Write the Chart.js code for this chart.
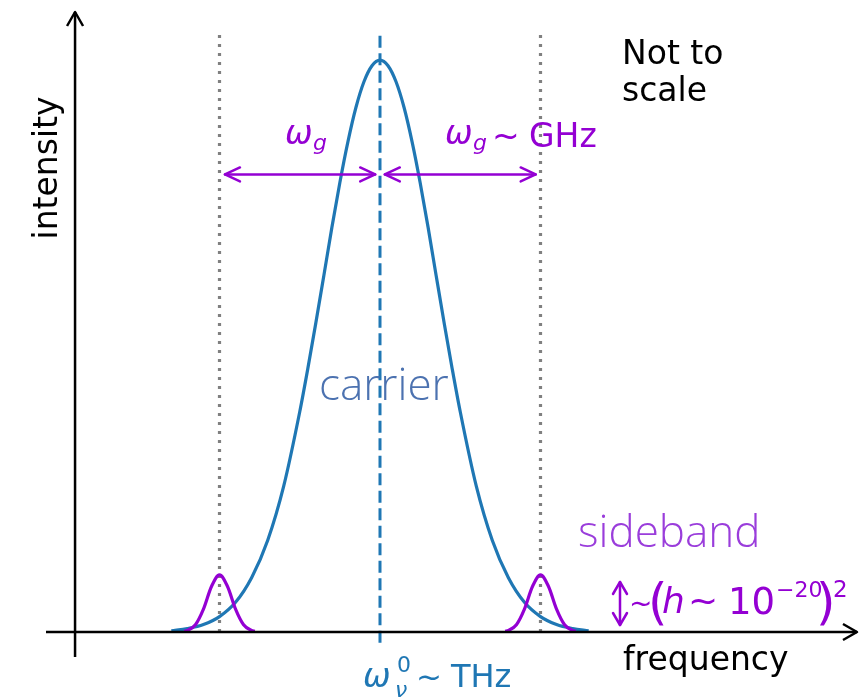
<!DOCTYPE html>
<html lang="en">
<head>
<meta charset="UTF-8">
<title>Carrier and sidebands</title>
<script src="https://cdn.jsdelivr.net/npm/chart.js"></script>
<style>
    body {
        margin: 0;
        background: #ffffff;
    }
    #wrap {
        width: 867px;
        height: 697px;
    }
</style>
</head>
<body>
<div id="wrap"><canvas id="spectrum" width="867" height="697"></canvas></div>
<script>
// carrier line shape, frequency in units of the sideband offset omega_g
const carrierFreq = [-1.3, -1.2, -1.1, -1.0, -0.9, -0.8, -0.7, -0.6, -0.5, -0.45, -0.4, -0.35, -0.3, -0.25, -0.2, -0.15, -0.1, -0.05, 0,
                     0.05, 0.1, 0.15, 0.2, 0.25, 0.3, 0.35, 0.4, 0.45, 0.5, 0.6, 0.7, 0.8, 0.9, 1.0, 1.1, 1.2, 1.3];
const carrierIntensity = [0.002, 0.006, 0.013, 0.027, 0.052, 0.095, 0.16, 0.255, 0.385, 0.46, 0.54, 0.623, 0.707, 0.786, 0.857, 0.917, 0.962, 0.99, 1,
                          0.99, 0.962, 0.917, 0.857, 0.786, 0.707, 0.623, 0.54, 0.46, 0.385, 0.255, 0.16, 0.095, 0.052, 0.027, 0.013, 0.006, 0.002];

// sidebands
const leftSidebandFreq = [-1.22, -1.2, -1.15, -1.1, -1.05, -1.0, -0.95, -0.9, -0.85, -0.8, -0.78];
const rightSidebandFreq = [0.78, 0.8, 0.85, 0.9, 0.95, 1.0, 1.05, 1.1, 1.15, 1.2, 1.22];
const sidebandIntensity = [0.0012, 0.0026, 0.0128, 0.0401, 0.0796, 0.1, 0.0796, 0.0401, 0.0128, 0.0026, 0.0012];

// guide lines
const sidebandMarks = [-1, 1];
const carrierMark = 0;
const guideTop = 1.044;
const arrowLevel = 0.8;

const xRange = [-2.081, 2.972];
const yRange = [-0.0437, 1.084];
const yAxisAt = -1.9;

const BLUE = '#1f77b4';
const PURPLE = '#9400d3';

function pts(xs, ys) {
    return xs.map((x, i) => ({x: x, y: ys[i]}));
}

function openHead(ctx, x, y, angle, len, half) {
    ctx.beginPath();
    ctx.moveTo(x - len * Math.cos(angle) - half * Math.sin(angle), y - len * Math.sin(angle) + half * Math.cos(angle));
    ctx.lineTo(x, y);
    ctx.lineTo(x - len * Math.cos(angle) + half * Math.sin(angle), y - len * Math.sin(angle) - half * Math.cos(angle));
    ctx.stroke();
}

function doubleArrow(ctx, x1, y1, x2, y2, color, len, half) {
    ctx.save();
    ctx.strokeStyle = color;
    ctx.lineWidth = 2.5;
    ctx.lineCap = 'round';
    ctx.lineJoin = 'round';
    ctx.beginPath();
    ctx.moveTo(x1, y1);
    ctx.lineTo(x2, y2);
    ctx.stroke();
    const a = Math.atan2(y2 - y1, x2 - x1);
    openHead(ctx, x2, y2, a, len, half);
    openHead(ctx, x1, y1, a + Math.PI, len, half);
    ctx.restore();
}

function txt(ctx, s, x, y, font, color) {
    ctx.font = font;
    ctx.fillStyle = color;
    ctx.fillText(s, x, y);
}

const decorations = {
    id: 'decorations',
    afterDatasetsDraw(chart) {
        const ctx = chart.ctx;
        const xs = chart.scales.x, ys = chart.scales.y;
        const area = chart.chartArea;
        const y0 = ys.getPixelForValue(0);
        const xAx = xs.getPixelForValue(yAxisAt);

        // axes
        ctx.save();
        ctx.strokeStyle = '#000';
        ctx.lineWidth = 2.5;
        ctx.lineJoin = 'round';
        ctx.beginPath();
        ctx.moveTo(area.left, y0);
        ctx.lineTo(area.right, y0);
        ctx.moveTo(xAx, area.bottom);
        ctx.lineTo(xAx, area.top);
        ctx.stroke();
        openHead(ctx, area.right, y0, 0, 14, 8);
        openHead(ctx, xAx, area.top, -Math.PI / 2, 14, 8);
        ctx.restore();

        // omega_g arrows
        const ya = ys.getPixelForValue(arrowLevel);
        doubleArrow(ctx, xs.getPixelForValue(-0.966), ya, xs.getPixelForValue(-0.03), ya, PURPLE, 15, 7);
        doubleArrow(ctx, xs.getPixelForValue(0.03), ya, xs.getPixelForValue(0.97), ya, PURPLE, 15, 7);
        // sideband height arrow
        doubleArrow(ctx, 620, 582, 620, 625, PURPLE, 12, 7);

        ctx.save();
        ctx.textBaseline = 'alphabetic';
        ctx.textAlign = 'left';

        txt(ctx, 'Not to', 622, 64, '33px "DejaVu Sans"', '#000');
        txt(ctx, 'scale', 622, 101, '33px "DejaVu Sans"', '#000');
        txt(ctx, 'frequency', 623, 670, '33px "DejaVu Sans"', '#000');

        txt(ctx, 'carrier', 319, 400, '300 44px "Open Sans"', '#4c72b0');
        txt(ctx, 'sideband', 578, 547, '300 44px "Open Sans"', '#9a3ddb');

        // omega_g labels
        txt(ctx, 'ω', 285, 144, 'italic 33px "DejaVu Sans"', PURPLE);
        txt(ctx, 'g', 313, 150, 'italic 22px "DejaVu Sans"', PURPLE);
        txt(ctx, 'ω', 445, 144, 'italic 33px "DejaVu Sans"', PURPLE);
        txt(ctx, 'g', 473, 150, 'italic 22px "DejaVu Sans"', PURPLE);
        txt(ctx, '~', 492, 147, '33px "DejaVu Sans"', PURPLE);
        txt(ctx, 'GHz', 529, 147, '33px "DejaVu Sans"', PURPLE);

        // carrier frequency label
        txt(ctx, 'ω', 363, 687, 'italic 33px "DejaVu Sans"', BLUE);
        txt(ctx, 'ν', 395, 697, 'italic 22px "DejaVu Sans"', BLUE);
        txt(ctx, '0', 397, 672, '22px "DejaVu Sans"', BLUE);
        txt(ctx, '~', 416, 687, '31px "DejaVu Sans"', BLUE);
        txt(ctx, 'THz', 451, 687, '32px "DejaVu Sans"', BLUE);

        // sideband size label
        txt(ctx, '~', 629, 613, '28px "DejaVu Sans"', PURPLE);
        txt(ctx, '(', 648, 619, '50px "DejaVu Sans"', PURPLE);
        txt(ctx, 'h', 662, 613, 'italic 36px "DejaVu Sans"', PURPLE);
        txt(ctx, '~', 688, 613, '36px "DejaVu Sans"', PURPLE);
        txt(ctx, '10', 728, 614, '37px "DejaVu Sans"', PURPLE);
        txt(ctx, '−20', 776, 597, '22px "DejaVu Sans"', PURPLE);
        txt(ctx, ')', 816, 619, '50px "DejaVu Sans"', PURPLE);
        txt(ctx, '2', 833, 597, '23px "DejaVu Sans"', PURPLE);

        // y label
        ctx.translate(57, 168);
        ctx.rotate(-Math.PI / 2);
        ctx.textAlign = 'center';
        txt(ctx, 'intensity', 0, 0, '33px "DejaVu Sans"', '#000');
        ctx.restore();
    }
};

new Chart(document.getElementById('spectrum'), {
    type: 'scatter',
    data: {
        datasets: [
            {
                data: pts(leftSidebandFreq, sidebandIntensity),
                showLine: true, borderColor: PURPLE, borderWidth: 3.2,
                pointRadius: 0, cubicInterpolationMode: 'monotone', order: 0
            },
            {
                data: pts(rightSidebandFreq, sidebandIntensity),
                showLine: true, borderColor: PURPLE, borderWidth: 3.2,
                pointRadius: 0, cubicInterpolationMode: 'monotone', order: 0
            },
            {
                data: pts(carrierFreq, carrierIntensity),
                showLine: true, borderColor: BLUE, borderWidth: 3.2,
                pointRadius: 0, cubicInterpolationMode: 'monotone', order: 1
            },
            {
                data: [{x: carrierMark, y: -0.019}, {x: carrierMark, y: guideTop}],
                showLine: true, borderColor: BLUE, borderWidth: 3, borderDash: [12, 5.5],
                pointRadius: 0, order: 2
            },
            {
                data: [{x: sidebandMarks[0], y: 0}, {x: sidebandMarks[0], y: guideTop}],
                showLine: true, borderColor: '#808080', borderWidth: 3.2, borderDash: [3, 6],
                pointRadius: 0, order: 3
            },
            {
                data: [{x: sidebandMarks[1], y: 0}, {x: sidebandMarks[1], y: guideTop}],
                showLine: true, borderColor: '#808080', borderWidth: 3.2, borderDash: [3, 6],
                pointRadius: 0, order: 3
            }
        ]
    },
    options: {
        responsive: false,
        animation: false,
        layout: {padding: {left: 46, right: 10, top: 12, bottom: 40}},
        plugins: {legend: {display: false}, tooltip: {enabled: false}},
        scales: {
            x: {type: 'linear', min: xRange[0], max: xRange[1], display: false},
            y: {type: 'linear', min: yRange[0], max: yRange[1], display: false}
        }
    },
    plugins: [decorations]
});
</script>
</body>
</html>
